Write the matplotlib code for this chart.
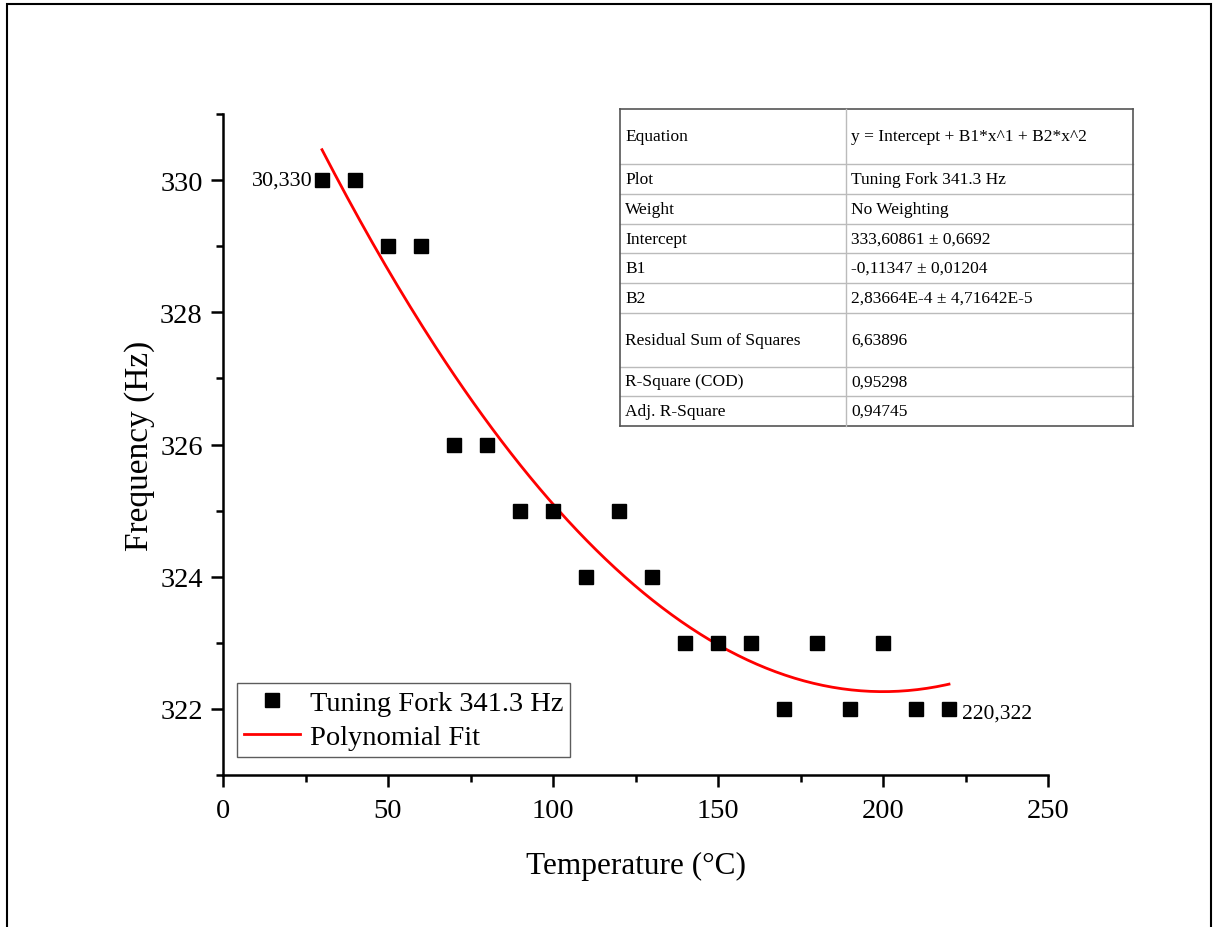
import numpy as np
import matplotlib
matplotlib.use('Agg')
import matplotlib.pyplot as plt
from matplotlib.patches import Rectangle
from matplotlib.lines import Line2D
from matplotlib.ticker import MultipleLocator

# ---------------- data ----------------
temperature = [30, 40, 50, 60, 70, 80, 90, 100, 110, 120,
               130, 140, 150, 160, 170, 180, 190, 200, 210, 220]
frequency = [330, 330, 329, 329, 326, 326, 325, 325, 324, 325,
             324, 323, 323, 323, 322, 323, 322, 323, 322, 322]

# fit coefficients (from the table)
intercept = 333.60861
b1 = -0.11347
b2 = 2.83664e-4

table_keys = ['Equation', 'Plot', 'Weight', 'Intercept', 'B1', 'B2',
              'Residual Sum of Squares', 'R-Square (COD)', 'Adj. R-Square']
table_vals = ['y = Intercept + B1*x^1 + B2*x^2', 'Tuning Fork 341.3 Hz',
              'No Weighting', '333,60861 \u00b1 0,6692', '-0,11347 \u00b1 0,01204',
              '2,83664E-4 \u00b1 4,71642E-5', '6,63896', '0,95298', '0,94745']
row_px = [55, 30, 30, 29, 30, 30, 54, 29, 30]

plt.rcParams['font.family'] = ['Liberation Serif', 'DejaVu Serif']

W, H = 1213, 928
fig = plt.figure(figsize=(W / 100, H / 100), dpi=100)

# outer frame
fig.patches.append(Rectangle((7 / W, -0.01), (1211 - 7) / W, (H - 5) / H + 0.01,
                             transform=fig.transFigure, fill=False,
                             edgecolor='black', linewidth=1.5))

ax = fig.add_axes([223 / W, 1 - 776 / H, (1048 - 223) / W, (776 - 115) / H])

ax.plot(temperature, frequency, 's', color='black', markersize=10,
        label='Tuning Fork 341.3 Hz', zorder=3)

xf = np.linspace(temperature[0], temperature[-1], 200)
yf = intercept + b1 * xf + b2 * xf ** 2
ax.plot(xf, yf, color='red', linewidth=2, label='Polynomial Fit', zorder=2)

# endpoint labels
ax.annotate(f'{temperature[0]},{frequency[0]}', (temperature[0], frequency[0]),
            xytext=(-7, 0), textcoords='offset points', ha='right', va='center',
            fontsize=16)
ax.annotate(f'{temperature[-1]},{frequency[-1]}', (temperature[-1], frequency[-1]),
            xytext=(9, -3), textcoords='offset points', ha='left', va='center',
            fontsize=15.5)

ax.set_xlim(0, 250)
ax.set_ylim(321, 331)
ax.xaxis.set_major_locator(MultipleLocator(50))
ax.xaxis.set_minor_locator(MultipleLocator(25))
ax.yaxis.set_major_locator(MultipleLocator(2))
ax.yaxis.set_minor_locator(MultipleLocator(1))
for s in ['top', 'right']:
    ax.spines[s].set_visible(False)
for s in ['left', 'bottom']:
    ax.spines[s].set_linewidth(1.8)
ax.tick_params(which='major', direction='out', length=8.5, width=1.8, labelsize=20.5, pad=6)
ax.tick_params(which='minor', direction='out', length=5, width=1.8)
ax.tick_params(axis='x', which='major', pad=8)

ax.set_xlabel('Temperature (\u00b0C)', fontsize=22.5, labelpad=20)
ax.set_ylabel('Frequency (Hz)', fontsize=24, labelpad=4)

leg = ax.legend(loc='lower left', bbox_to_anchor=(0.017, 0.027), fontsize=20.5,
                frameon=True, fancybox=False, edgecolor='#333333',
                borderpad=0.25, labelspacing=0.3, handlelength=1.95,
                handletextpad=0.35, borderaxespad=0)
leg.get_frame().set_linewidth(1.0)

# fit table drawn in figure pixels
tx0, tx1, tcol = 620, 1133, 846
ty = 110
tr = fig.transFigure
edges = [ty]
for h in row_px:
    edges.append(edges[-1] + h)
for i, y in enumerate(edges):
    c = '#555555' if i in (0, len(edges) - 1) else '#bbbbbb'
    fig.add_artist(Line2D([tx0 / W, tx1 / W], [1 - y / H, 1 - y / H], transform=tr,
                          color=c, linewidth=1.2 if c == '#555555' else 1.0))
for x in (tx0, tx1):
    fig.add_artist(Line2D([x / W, x / W], [1 - edges[0] / H, 1 - edges[-1] / H],
                          transform=tr, color='#555555', linewidth=1.2))
fig.add_artist(Line2D([tcol / W, tcol / W], [1 - edges[0] / H, 1 - edges[-1] / H],
                      transform=tr, color='#bbbbbb', linewidth=1.0))
for i, (k, v) in enumerate(zip(table_keys, table_vals)):
    yc = 1 - (edges[i] + edges[i + 1]) / 2 / H
    fig.text((tx0 + 5) / W, yc, k, fontsize=12.5, va='center', ha='left')
    fig.text((tcol + 5) / W, yc, v, fontsize=12.5, va='center', ha='left')

fig.savefig('out.png', dpi=100)
